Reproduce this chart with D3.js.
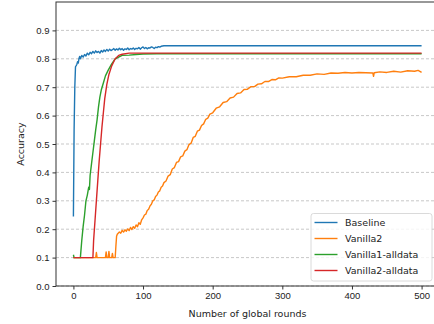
<!DOCTYPE html>
<html>
<head>
<meta charset="utf-8">
<title>Accuracy vs global rounds</title>
<style>
html,body{margin:0;padding:0;background:#fff;overflow:hidden;}
svg{display:block;font-family:"DejaVu Sans",sans-serif;}
.grid line{stroke:#b0b0b0;stroke-width:0.7;stroke-dasharray:3,2;}
.axis text{font-size:9.5px;fill:#222;}
.axis line,.axis path{stroke:#333;}
</style>
</head>
<body>
<div id="chart"></div>
<script src="https://cdn.jsdelivr.net/npm/d3@7"></script>
<script>
/* ---------- data ---------- */
const seriesNames = ['Baseline', 'Vanilla2', 'Vanilla1-alldata', 'Vanilla2-alldata'];
const seriesColors = ['#1f77b4', '#ff7f0e', '#2ca02c', '#d62728'];
const xTicks = [0, 100, 200, 300, 400, 500];
const yTicks = [0, 0.1, 0.2, 0.3, 0.4, 0.5, 0.6, 0.7, 0.8, 0.9];

const baseline = [
  [0,0.245],[1,0.55],[2,0.70],[3,0.772],[4,0.776],[5,0.781],[6,0.79],[7,0.785],[8,0.801],[9,0.808],
  [10,0.80],[12,0.812],[14,0.806],[16,0.815],[18,0.81],[20,0.82],[22,0.814],[24,0.823],[26,0.818],
  [28,0.826],[30,0.82],[32,0.828],[34,0.822],[36,0.826],[38,0.82],[40,0.829],[42,0.824],[44,0.831],
  [46,0.826],[48,0.833],[50,0.827],[52,0.834],[54,0.829],[56,0.832],[58,0.836],[60,0.83],[62,0.835],
  [64,0.831],[66,0.837],[68,0.832],[70,0.836],[72,0.83],[74,0.835],[76,0.833],[78,0.838],[80,0.832],
  [82,0.836],[84,0.834],[86,0.838],[88,0.833],[90,0.837],[92,0.835],[94,0.84],[96,0.834],[98,0.839],
  [100,0.842],[102,0.836],[104,0.84],[106,0.835],[108,0.839],[110,0.838],[112,0.842],[114,0.84],
  [116,0.836],[118,0.841],[120,0.839],[122,0.843],[124,0.841],[126,0.844],[128,0.845],[130,0.846],
  [200,0.846],[300,0.846],[400,0.846],[500,0.846]
];

const vanilla2 = [
  [0,0.1],[32,0.1],[33,0.118],[34,0.1],[46,0.1],[47,0.12],[48,0.1],[50,0.1],[51,0.122],[52,0.1],
  [55,0.1],[56,0.115],[57,0.1],[60,0.1],[61,0.14],[62,0.175],[63,0.182],[64,0.185],[66,0.19],
  [68,0.186],[70,0.196],[72,0.19],[74,0.198],[76,0.193],[78,0.201],[80,0.195],[82,0.206],[84,0.199],
  [86,0.209],[88,0.203],[90,0.215],[92,0.209],[94,0.223],[96,0.217],[98,0.233],[100,0.24],[102,0.25],
  [104,0.253],[106,0.266],[108,0.27],[110,0.282],[112,0.288],[114,0.3],[116,0.303],[118,0.315],
  [120,0.32],[122,0.331],[124,0.335],[126,0.348],[128,0.352],[130,0.364],[133,0.37],[136,0.387],
  [139,0.392],[142,0.412],[145,0.417],[148,0.435],[151,0.438],[154,0.455],[157,0.458],[160,0.475],
  [163,0.48],[166,0.498],[169,0.503],[172,0.523],[175,0.527],[178,0.545],[181,0.549],[184,0.565],
  [187,0.571],[190,0.587],[193,0.591],[196,0.605],[200,0.61],[205,0.626],[210,0.631],[215,0.646],
  [220,0.649],[225,0.662],[230,0.665],[235,0.678],[240,0.68],[245,0.692],[250,0.693],[255,0.702],
  [260,0.702],[265,0.711],[270,0.712],[275,0.72],[280,0.72],[285,0.727],[290,0.726],[295,0.733],
  [300,0.732],[310,0.737],[320,0.737],[330,0.742],[340,0.742],[350,0.747],[360,0.745],[370,0.75],
  [380,0.749],[390,0.752],[400,0.75],[410,0.752],[420,0.751],[430,0.75],[431,0.738],[432,0.751],
  [440,0.754],[450,0.752],[460,0.756],[470,0.753],[480,0.758],[490,0.756],[495,0.759],[500,0.752]
];

const vanilla1All = [
  [0,0.11],[1,0.1],[10,0.1],[12,0.16],[14,0.21],[16,0.25],[18,0.3],[20,0.32],[22,0.348],[23,0.34],
  [24,0.39],[26,0.43],[28,0.47],[30,0.51],[32,0.55],[34,0.585],[36,0.63],[38,0.665],[40,0.69],
  [43,0.715],[46,0.74],[50,0.76],[55,0.782],[60,0.8],[65,0.806],[70,0.812],[80,0.813],[90,0.815],
  [100,0.817],[120,0.818],[200,0.818],[300,0.818],[400,0.818],[500,0.818]
];

const vanilla2All = [
  [0,0.1],[28,0.1],[29,0.16],[31,0.23],[33,0.3],[35,0.37],[37,0.44],[39,0.5],[41,0.56],[43,0.61],
  [45,0.66],[48,0.71],[51,0.745],[55,0.775],[60,0.8],[65,0.812],[70,0.816],[80,0.82],[100,0.82],
  [200,0.82],[300,0.82],[400,0.82],[500,0.82]
];

const allSeries = [baseline, vanilla2, vanilla1All, vanilla2All];

/* ---------- layout ---------- */
const W = 434, H = 324;
const m = {left:56, top:2, right:-5, bottom:38};

const svg = d3.select('#chart').append('svg').attr('width', W).attr('height', H);

const x = d3.scaleLinear().domain([-25, 525]).range([m.left, W - m.right]);
const y = d3.scaleLinear().domain([0, 1]).range([H - m.bottom, m.top]);

// grid
svg.append('g').attr('class', 'grid')
  .selectAll('line').data(yTicks).join('line')
  .attr('x1', m.left).attr('x2', W - m.right)
  .attr('y1', d => y(d)).attr('y2', d => y(d));

// lines
const line = d3.line().x(d => x(d[0])).y(d => y(d[1]));
svg.append('g').selectAll('path').data(allSeries).join('path')
  .attr('d', line)
  .attr('fill', 'none')
  .attr('stroke', (d, i) => seriesColors[i])
  .attr('stroke-width', 1.4)
  .attr('stroke-linejoin', 'round');

// axes
const xAxis = svg.append('g').attr('class', 'axis')
  .attr('transform', `translate(0,${H - m.bottom})`)
  .call(d3.axisBottom(x).tickValues(xTicks).tickSize(3.5).tickPadding(3).tickSizeOuter(0));
const yAxis = svg.append('g').attr('class', 'axis')
  .attr('transform', `translate(${m.left},0)`)
  .call(d3.axisLeft(y).tickValues(yTicks).tickFormat(d3.format('.1f')).tickSize(3.5).tickPadding(3).tickSizeOuter(0));
xAxis.select('.domain').remove();
yAxis.select('.domain').remove();

// spines
svg.append('rect')
  .attr('x', m.left).attr('y', m.top)
  .attr('width', W - m.right - m.left).attr('height', H - m.bottom - m.top)
  .attr('fill', 'none').attr('stroke', '#333').attr('stroke-width', 1);

// axis labels
svg.append('text')
  .attr('x', (m.left + W - m.right) / 2).attr('y', 317)
  .attr('text-anchor', 'middle').attr('font-size', 9.5).attr('fill', '#222')
  .text('Number of global rounds');
svg.append('text')
  .attr('transform', `translate(24,${(m.top + H - m.bottom) / 2}) rotate(-90)`)
  .attr('text-anchor', 'middle').attr('font-size', 9.5).attr('fill', '#222')
  .text('Accuracy');

// legend
const lg = svg.append('g').attr('transform', 'translate(311,213.5)');
lg.append('rect')
  .attr('width', 121).attr('height', 67.5).attr('rx', 2.5)
  .attr('fill', 'rgba(255,255,255,0.8)').attr('stroke', '#d0d0d0').attr('stroke-width', 0.8);
const items = lg.selectAll('g.item').data(seriesNames).join('g')
  .attr('class', 'item')
  .attr('transform', (d, i) => `translate(0,${9 + i * 16})`);
items.append('line')
  .attr('x1', 3.5).attr('x2', 26.5)
  .attr('stroke', (d, i) => seriesColors[i]).attr('stroke-width', 1.4);
items.append('text')
  .attr('x', 34).attr('dy', '0.35em')
  .attr('font-size', 9.5).attr('fill', '#222')
  .text(d => d);
</script>
</body>
</html>
